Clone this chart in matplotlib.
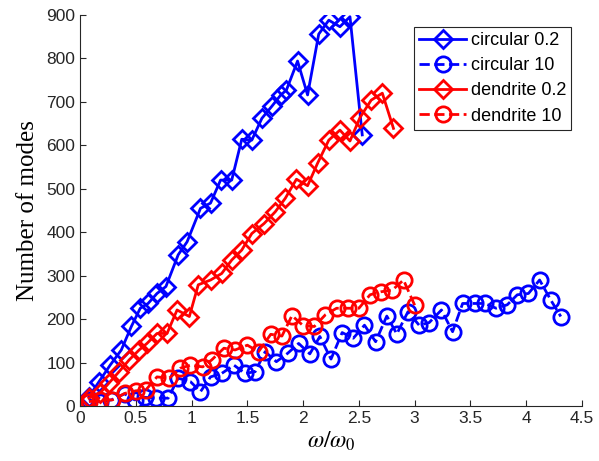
import matplotlib
matplotlib.use("Agg")
import matplotlib.pyplot as plt

# circular 0.2
circ02_x = [0.08, 0.17, 0.27, 0.37, 0.46, 0.54, 0.61, 0.69, 0.77, 0.88, 0.96, 1.08, 1.17,
            1.26, 1.36, 1.45, 1.54, 1.63, 1.72, 1.80, 1.85, 1.95, 2.04, 2.14, 2.23, 2.33,
            2.42, 2.53]
circ02_y = [21, 56, 94, 129, 183, 225, 236, 259, 275, 348, 378, 455, 467,
            520, 520, 614, 612, 662, 690, 716, 727, 794, 716, 856, 888, 873,
            896, 624]

# circular 10
circ10_x = [0.08, 0.18, 0.28, 0.40, 0.49, 0.58, 0.68, 0.79, 0.88, 0.99, 1.08, 1.17, 1.27,
            1.38, 1.48, 1.57, 1.66, 1.76, 1.86, 1.96, 2.06, 2.15, 2.25, 2.35, 2.45, 2.55,
            2.65, 2.75, 2.84, 2.94, 3.04, 3.13, 3.24, 3.34, 3.43, 3.54, 3.63, 3.73, 3.83,
            3.92, 4.02, 4.12, 4.22, 4.31]
circ10_y = [14, 10, 14, 28, 14, 20, 18, 18, 64, 56, 33, 67, 75,
            94, 75, 79, 125, 102, 121, 144, 120, 160, 108, 169, 156, 186,
            148, 207, 166, 217, 186, 192, 221, 171, 236, 236, 236, 225, 233,
            256, 259, 290, 244, 206]

# dendrite 0.2
dend02_x = [0.08, 0.18, 0.26, 0.35, 0.44, 0.53, 0.60, 0.69, 0.78, 0.87, 0.98, 1.06, 1.17,
            1.27, 1.36, 1.45, 1.54, 1.65, 1.75, 1.84, 1.94, 2.04, 2.13, 2.23, 2.33, 2.42,
            2.51, 2.61, 2.71, 2.81]
dend02_y = [18, 30, 53, 79, 106, 129, 144, 167, 167, 221, 206, 279, 290,
            305, 336, 359, 397, 420, 447, 478, 522, 507, 559, 612, 635, 610,
            664, 704, 720, 639]

# dendrite 10
dend10_x = [0.08, 0.18, 0.29, 0.40, 0.50, 0.59, 0.69, 0.80, 0.90, 0.99, 1.10, 1.18, 1.29,
            1.39, 1.50, 1.60, 1.71, 1.81, 1.90, 2.00, 2.10, 2.20, 2.30, 2.40, 2.50, 2.60,
            2.70, 2.80, 2.90, 3.00]
dend10_y = [10, 14, 14, 29, 35, 37, 67, 64, 87, 94, 90, 106, 133,
            129, 140, 125, 165, 161, 208, 185, 183, 210, 225, 225, 225, 256,
            263, 267, 290, 232]

plt.rcParams['mathtext.fontset'] = 'stix'
plt.rcParams['font.family'] = 'Liberation Sans'

fig = plt.figure(figsize=(5.99, 4.61), dpi=100)
ax = fig.add_axes([0.1336, 0.1193, 0.8380, 0.8482])

line_kw = dict(lw=2, markeredgewidth=2, markerfacecolor='none')
ax.plot(circ02_x, circ02_y, '-', marker='D', markersize=9.5, color='#0000ff',
        label='circular 0.2', **line_kw)
ax.plot(circ10_x, circ10_y, '--', marker='o', markersize=11, color='#0000ff',
        label='circular 10', **line_kw)
ax.plot(dend02_x, dend02_y, '-', marker='D', markersize=9.5, color='#ff0000',
        label='dendrite 0.2', **line_kw)
ax.plot(dend10_x, dend10_y, '--', marker='o', markersize=11, color='#ff0000',
        label='dendrite 10', **line_kw)

ax.set_xlim(0, 4.5)
ax.set_ylim(0, 900)
ax.set_xticks([0, 0.5, 1, 1.5, 2, 2.5, 3, 3.5, 4, 4.5])
ax.set_xticklabels(['0', '0.5', '1', '1.5', '2', '2.5', '3', '3.5', '4', '4.5'])
ax.set_yticks(range(0, 901, 100))

for s in ['top', 'right']:
    ax.spines[s].set_visible(False)
for s in ['left', 'bottom']:
    ax.spines[s].set_color('#262626')
    ax.spines[s].set_linewidth(0.8)
ax.tick_params(direction='in', length=4, colors='#262626', labelsize=12.5)

ax.set_xlabel(r'$\omega/\omega_0$', fontsize=17, labelpad=3)
ax.set_ylabel('Number of modes', fontsize=18, family='Liberation Serif', labelpad=5)

leg = ax.legend(loc='upper right', bbox_to_anchor=(0.979, 0.97), fontsize=13,
                fancybox=False, edgecolor='#262626', framealpha=1,
                handlelength=2.6, borderpad=0.3, labelspacing=0.45, handletextpad=0.25,
                borderaxespad=0)
leg.get_frame().set_linewidth(0.8)

fig.savefig('out.png', dpi=100)
